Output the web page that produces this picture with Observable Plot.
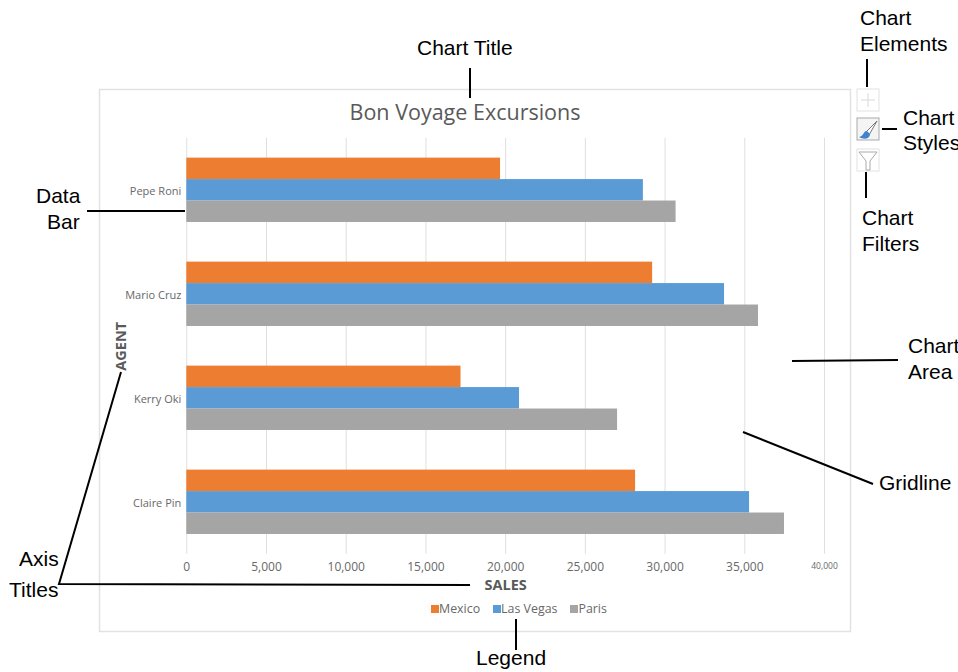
<!DOCTYPE html>
<html><head><meta charset="utf-8">
<style>html,body{margin:0;padding:0;background:#fff}#wrap{position:relative;width:958px;height:672px;overflow:hidden}#legend{position:absolute;left:431px;top:592px;width:300px}
#legend svg{margin:0}#legend .lg-swatch{margin-right:13px !important}</style>
<script src="https://cdn.jsdelivr.net/npm/d3@7"></script>
<script src="https://cdn.jsdelivr.net/npm/@observablehq/plot@0.6"></script>
</head><body><div id="wrap"></div>
<script>
const agents = ["Pepe Roni","Mario Cruz","Kerry Oki","Claire Pin"];
const seriesNames = ["Mexico","Las Vegas","Paris"];
const seriesColors = ["#ed7d31","#5b9bd5","#a5a5a5"];
const mexico = [19680,29220,17200,28150];
const lasVegas = [28640,33730,20870,35300];
const paris = [30690,35860,27020,37490];
const mainTicks = [0,5000,10000,15000,20000,25000,30000,35000];
const lastTick = [40000];
const chartTitle = "Bon Voyage Excursions";
const uiFont = "'Open Sans', sans-serif";
const noteFont = "'Liberation Sans', Arial, sans-serif";

const rows = agents.flatMap((agent,i)=>[mexico,lasVegas,paris].map((values,k)=>({agent,series:seriesNames[k],value:values[i]})));
const fmt = d3.format(",");
const plot = Plot.plot({
  width:958,height:672,marginLeft:186.3,marginRight:134,marginTop:137.8,marginBottom:118.2,
  style:{fontFamily:uiFont,background:"#fff",overflow:"visible"},
  x:{domain:[0,40000]},
  fy:{domain:agents,padding:0,round:false},
  y:{domain:seriesNames,paddingInner:0,paddingOuter:0.924,axis:null,round:false},
  color:{domain:seriesNames,range:seriesColors},
  marks:[
    Plot.gridX([...mainTicks,...lastTick],{stroke:"#dfdfdf",strokeOpacity:1,strokeWidth:1}),
    Plot.barX(rows,{x:"value",y:"series",fy:"agent",fill:"series"}),
    Plot.axisX(mainTicks,{tickSize:0,tickPadding:8,tickFormat:fmt,fontSize:12,color:"#686868",label:"SALES",labelAnchor:"center",labelArrow:"none",labelOffset:36}),
    Plot.axisX(lastTick,{tickSize:0,tickPadding:9,tickFormat:fmt,fontSize:8.5,color:"#686868",label:null}),
    Plot.axisFy({anchor:"left",tickSize:0,tickPadding:5.5,fontSize:11,dy:1,color:"#686868",label:"AGENT",labelAnchor:"center",labelArrow:"none",labelOffset:71})
  ]
});
document.getElementById("wrap").appendChild(plot);

const svg = d3.select(plot).select("svg").empty() ? d3.select(plot) : d3.select(plot).select("svg");
svg.selectAll("text").filter(function(){return ["SALES","AGENT"].includes(this.textContent)})
  .attr("font-weight","700").attr("font-size",14.5).attr("fill","#595959");

const leg = plot.legend("color",{swatchSize:8,swatchWidth:8,swatchHeight:8,columns:null,marginLeft:0,className:"lg",style:{fontSize:"12.4px",fontFamily:uiFont,color:"#686868"}});
const legBox = document.createElement("div");legBox.id="legend";legBox.appendChild(leg);
document.getElementById("wrap").appendChild(legBox);

// Overlay layer: frame, title, control icons and callouts
const overlay = svg.append("g").attr("text-anchor","start");
overlay.insert("rect").attr("x",99.5).attr("y",89.5).attr("width",751).attr("height",542).attr("fill","none").attr("stroke","#e2e2e2").attr("stroke-width",1.5);
overlay.append("text").attr("x",465).attr("y",120).attr("text-anchor","middle").attr("font-family",uiFont).attr("font-size",21.5).attr("fill","#595959").text(chartTitle);

const boxes = [[857,89],[857,118],[857,149]];
boxes.forEach(([x,y],i)=>overlay.append("rect").attr("x",x).attr("y",y).attr("width",22).attr("height",22).attr("fill",i==1?"#f4f4f4":"#fff").attr("stroke",i==1?"#aaa":"#e2e2e2").attr("stroke-width",1));
overlay.append("path").attr("d","M868 93V107M861 100H875").attr("stroke","#d8d8d8").attr("fill","none");
overlay.append("path").attr("d","M877 121L866 132L869 135Z").attr("fill","#fff").attr("stroke","#777");
overlay.append("path").attr("d","M867 131C863 131 864 136 859 137C864 140 870 139 870 134Z").attr("fill","#3f83cf");
overlay.append("path").attr("d","M859 152H877L870 161V170H866V161Z").attr("fill","#fff").attr("stroke","#aaa");

const notes = [
  [[470,68],[470,98]],[[867,59],[867,87]],[[882,129],[897,129]],[[866,172],[866,198]],
  [[87,211],[185,211]],[[792,361],[898,360]],[[743,432],[873,484]],
  [[121,372],[59,584],[470,585]],[[516,619],[516,650]]
];
const line = d3.line();
notes.forEach(p=>overlay.append("path").attr("d",line(p)).attr("fill","none").attr("stroke","#000").attr("stroke-width",2));
const labels = [
  ["Chart Title",417,55],["Chart",860,25],["Elements",860,51],["Chart",903,125],["Styles",903,150],
  ["Chart",862,225],["Filters",862,251],["Data",36,203],["Bar",47,229],["Chart",908,353],["Area",908,379],
  ["Gridline",879,490],["Axis",19,566],["Titles",9,597],["Legend",476,665]
];
labels.forEach(([t,x,y])=>overlay.append("text").attr("x",x).attr("y",y).attr("font-family",noteFont).attr("font-size",21).attr("fill","#000").text(t));
</script></body></html>
